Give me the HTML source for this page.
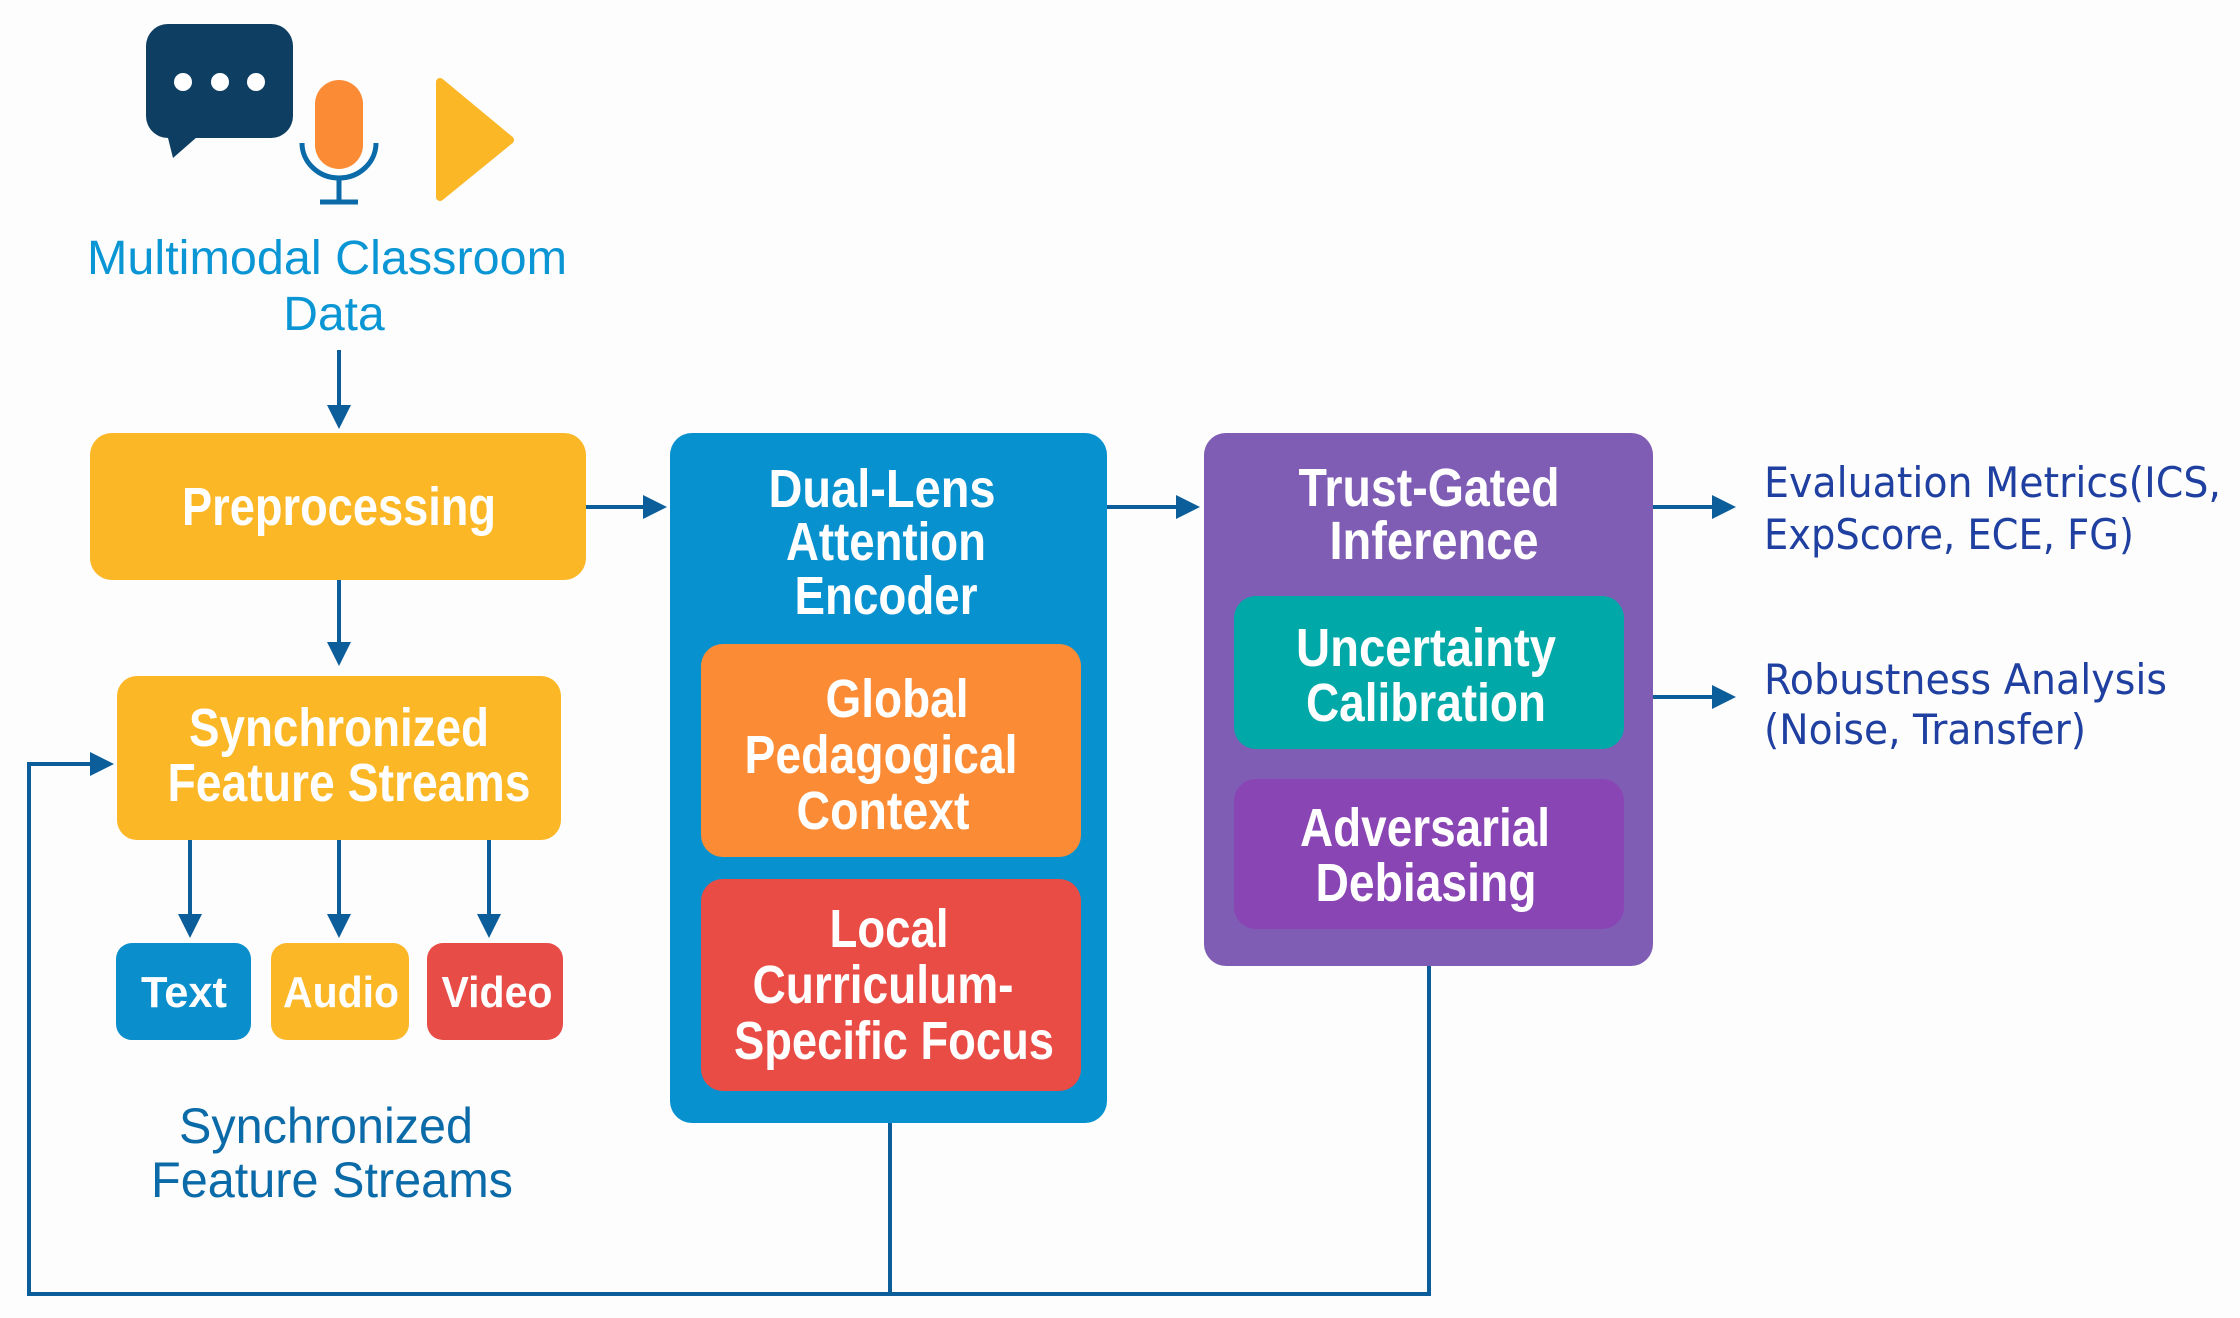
<!DOCTYPE html>
<html><head><meta charset="utf-8"><style>
html,body{margin:0;padding:0;background:#fdfdfd;}
svg{display:block;}
.w{fill:#fff;font-family:"Liberation Sans",sans-serif;font-weight:bold;font-size:54px;text-anchor:middle;}
.s{fill:#fff;font-family:"Liberation Sans",sans-serif;font-weight:bold;font-size:44px;text-anchor:middle;}
.r{fill:#1f40a0;font-family:"DejaVu Sans","Liberation Sans",sans-serif;font-size:42px;}
</style></head><body>
<svg width="2240" height="1318" viewBox="0 0 2240 1318" xmlns="http://www.w3.org/2000/svg">
<defs>
<marker id="a" markerWidth="6" markerHeight="6" refX="5" refY="3" orient="auto" markerUnits="strokeWidth">
<path d="M0,0 L6,3 L0,6 z" fill="#0b5e99"/></marker>
</defs>
<rect width="2240" height="1318" fill="#fdfdfd"/>
<!-- icons -->
<rect x="146" y="24" width="147" height="114" rx="22" fill="#0e3f63"/>
<path d="M166,130 L173,158 L205,130 z" fill="#0e3f63"/>
<circle cx="183" cy="82" r="9" fill="#fff"/><circle cx="220" cy="82" r="9" fill="#fff"/><circle cx="256" cy="82" r="9" fill="#fff"/>
<rect x="315" y="80" width="48" height="89" rx="24" fill="#fb8c35"/>
<path d="M302,143 A37,35 0 0 0 376,143" fill="none" stroke="#0b6aa8" stroke-width="5"/>
<line x1="339" y1="178" x2="339" y2="202" stroke="#0b6aa8" stroke-width="5"/>
<line x1="320" y1="202" x2="358" y2="202" stroke="#0b6aa8" stroke-width="5"/>
<path d="M440,82 L510,140 L440,197 z" fill="#fbb726" stroke="#fbb726" stroke-width="8" stroke-linejoin="round"/>
<text x="327" y="274" font-family="Liberation Sans,sans-serif" font-size="48" fill="#0a96d4" text-anchor="middle" textLength="480" lengthAdjust="spacingAndGlyphs">Multimodal Classroom</text>
<text x="334" y="330" font-family="Liberation Sans,sans-serif" font-size="48" fill="#0a96d4" text-anchor="middle">Data</text>
<!-- connectors -->
<g stroke="#0b5e99" stroke-width="4" fill="none">
<line x1="339" y1="350" x2="339" y2="425" marker-end="url(#a)"/>
<line x1="339" y1="580" x2="339" y2="662" marker-end="url(#a)"/>
<line x1="190" y1="840" x2="190" y2="934" marker-end="url(#a)"/>
<line x1="339" y1="840" x2="339" y2="934" marker-end="url(#a)"/>
<line x1="489" y1="840" x2="489" y2="934" marker-end="url(#a)"/>
<line x1="586" y1="507" x2="663" y2="507" marker-end="url(#a)"/>
<line x1="1107" y1="507" x2="1196" y2="507" marker-end="url(#a)"/>
<line x1="1653" y1="507" x2="1732" y2="507" marker-end="url(#a)"/>
<line x1="1653" y1="697" x2="1732" y2="697" marker-end="url(#a)"/>
<polyline points="890,1123 890,1294"/>
<polyline points="1429,966 1429,1294 29,1294 29,764 110,764" marker-end="url(#a)"/>
</g>
<!-- left boxes -->
<rect x="90" y="433" width="496" height="147" rx="22" fill="#fbb726"/>
<text class="w" x="339" y="525" textLength="314" lengthAdjust="spacingAndGlyphs">Preprocessing</text>
<rect x="117" y="676" width="444" height="164" rx="20" fill="#fbb726"/>
<text class="w" x="339" y="746" textLength="300" lengthAdjust="spacingAndGlyphs">Synchronized</text>
<text class="w" x="349" y="801" textLength="363" lengthAdjust="spacingAndGlyphs">Feature Streams</text>
<rect x="116" y="943" width="135" height="97" rx="16" fill="#0a8fcc"/>
<rect x="271" y="943" width="138" height="97" rx="16" fill="#fbb726"/>
<rect x="427" y="943" width="136" height="97" rx="16" fill="#e84c47"/>
<text class="s" x="184" y="1007" textLength="86" lengthAdjust="spacingAndGlyphs">Text</text>
<text class="s" x="341" y="1007" textLength="116" lengthAdjust="spacingAndGlyphs">Audio</text>
<text class="s" x="497" y="1007" textLength="111" lengthAdjust="spacingAndGlyphs">Video</text>
<text x="326" y="1143" font-family="Liberation Sans,sans-serif" font-size="50" fill="#0b6aa8" text-anchor="middle" textLength="294" lengthAdjust="spacingAndGlyphs">Synchronized</text>
<text x="332" y="1197" font-family="Liberation Sans,sans-serif" font-size="50" fill="#0b6aa8" text-anchor="middle" textLength="362" lengthAdjust="spacingAndGlyphs">Feature Streams</text>
<!-- dual lens -->
<rect x="670" y="433" width="437" height="690" rx="22" fill="#0891cf"/>
<text class="w" x="882" y="507" textLength="227" lengthAdjust="spacingAndGlyphs">Dual-Lens</text>
<text class="w" x="886" y="560" textLength="200" lengthAdjust="spacingAndGlyphs">Attention</text>
<text class="w" x="886" y="614" textLength="183" lengthAdjust="spacingAndGlyphs">Encoder</text>
<rect x="701" y="644" width="380" height="213" rx="22" fill="#fb8c35"/>
<text class="w" x="897" y="717" textLength="143" lengthAdjust="spacingAndGlyphs">Global</text>
<text class="w" x="881" y="773" textLength="273" lengthAdjust="spacingAndGlyphs">Pedagogical</text>
<text class="w" x="883" y="829" textLength="173" lengthAdjust="spacingAndGlyphs">Context</text>
<rect x="701" y="879" width="380" height="212" rx="22" fill="#e84c44"/>
<text class="w" x="889" y="947" textLength="119" lengthAdjust="spacingAndGlyphs">Local</text>
<text class="w" x="883" y="1003" textLength="261" lengthAdjust="spacingAndGlyphs">Curriculum-</text>
<text class="w" x="894" y="1059" textLength="320" lengthAdjust="spacingAndGlyphs">Specific Focus</text>
<!-- trust -->
<rect x="1204" y="433" width="449" height="533" rx="22" fill="#7f5db5"/>
<text class="w" x="1429" y="506" textLength="261" lengthAdjust="spacingAndGlyphs">Trust-Gated</text>
<text class="w" x="1434" y="559" textLength="209" lengthAdjust="spacingAndGlyphs">Inference</text>
<rect x="1234" y="596" width="390" height="153" rx="22" fill="#00a8a8"/>
<text class="w" x="1426" y="666" textLength="260" lengthAdjust="spacingAndGlyphs">Uncertainty</text>
<text class="w" x="1426" y="721" textLength="240" lengthAdjust="spacingAndGlyphs">Calibration</text>
<rect x="1234" y="779" width="390" height="150" rx="22" fill="#8a45b5"/>
<text class="w" x="1425" y="846" textLength="250" lengthAdjust="spacingAndGlyphs">Adversarial</text>
<text class="w" x="1426" y="901" textLength="221" lengthAdjust="spacingAndGlyphs">Debiasing</text>
<!-- right text -->
<text class="r" x="1764" y="497" textLength="457" lengthAdjust="spacingAndGlyphs">Evaluation Metrics(ICS,</text>
<text class="r" x="1764" y="549" textLength="370" lengthAdjust="spacingAndGlyphs">ExpScore, ECE, FG)</text>
<text class="r" x="1764" y="694" textLength="403" lengthAdjust="spacingAndGlyphs">Robustness Analysis</text>
<text class="r" x="1764" y="744" textLength="322" lengthAdjust="spacingAndGlyphs">(Noise, Transfer)</text>
</svg>
</body></html>
